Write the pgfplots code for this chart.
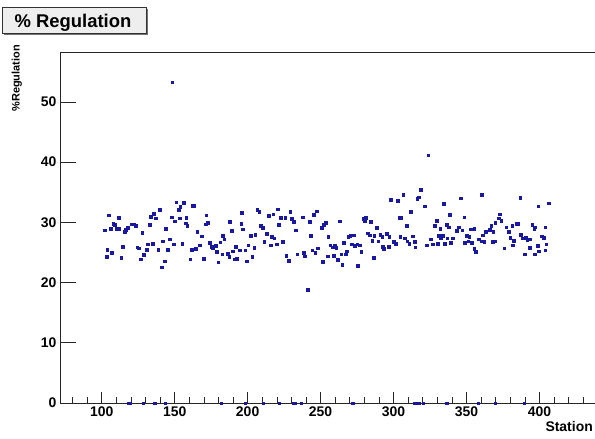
\documentclass[border=0pt]{standalone}
\usepackage{fontspec}
\setmainfont{Liberation Sans}
\usepackage{pgfplots}
\pgfplotsset{compat=1.18}

\definecolor{rootblue}{RGB}{25,25,160}
\definecolor{titlefill}{RGB}{238,238,238}

% measured values, station vs regulation
\pgfplotstableread{
x y
101.9 28.7
103.2 24.3
103.7 25.5
104.9 31.2
105.9 29.0
106.9 25.0
107.9 29.8
108.9 29.6
110.2 29.0
111.4 30.8
111.8 29.0
113.2 24.1
114.1 26.0
115.5 28.5
116.4 28.8
117.8 29.1
120.1 29.7
121.8 29.7
123.3 29.5
124.2 25.9
125.2 25.7
126.5 23.9
127.7 28.3
128.7 24.6
130.7 25.5
131.5 26.4
132.7 29.6
133.3 31.0
134.7 26.5
135.7 31.5
137.0 30.7
138.7 25.5
139.7 32.1
141.1 22.6
141.6 26.9
142.9 23.6
143.6 29.0
145.2 25.5
146.6 27.2
147.9 30.9
148.2 53.3
149.3 26.4
150.0 30.2
150.9 33.4
152.6 32.1
153.2 30.7
153.7 32.6
155.0 26.5
156.0 33.3
157.3 29.9
157.8 30.8
158.6 29.5
160.5 23.9
161.5 25.5
162.4 32.8
163.4 32.8
164.2 25.6
165.5 28.5
166.9 26.2
168.3 27.7
169.7 24.0
171.1 29.7
171.5 31.2
172.5 30.0
173.8 26.6
175.2 26.0
176.1 25.7
177.9 26.1
178.9 25.1
179.8 23.4
181.2 26.7
182.5 24.7
183.0 27.8
183.9 27.2
186.2 24.8
187.2 24.3
187.5 30.1
189.0 28.6
189.9 25.2
191.2 23.9
191.6 26.0
192.6 24.0
194.4 25.4
195.4 29.8
195.8 31.6
196.7 28.9
198.3 25.4
199.3 23.6
200.2 26.2
202.2 27.8
203.2 24.3
204.5 25.8
205.0 28.0
206.4 32.1
207.8 31.8
208.7 29.5
210.1 29.1
211.4 26.8
212.8 28.1
214.2 31.1
215.6 26.2
216.5 27.6
217.4 31.4
218.2 27.4
219.7 26.4
220.7 32.2
221.2 29.6
222.5 30.8
223.8 26.8
225.7 30.8
226.5 24.5
227.9 23.7
229.0 31.8
230.2 30.6
231.6 30.1
233.0 28.7
233.9 24.7
237.6 30.9
238.5 25.0
238.9 24.4
241.2 18.8
242.6 30.1
243.1 27.8
244.3 25.4
245.3 31.3
246.2 25.0
247.2 31.9
248.0 25.7
250.5 29.1
251.5 23.5
252.0 29.6
253.3 30.0
254.7 24.4
255.2 27.6
256.6 26.2
258.4 25.9
258.8 24.5
259.8 26.2
260.7 25.8
261.5 23.8
262.9 30.2
264.0 24.7
264.8 23.0
265.7 26.6
267.0 24.7
268.0 25.2
268.9 27.6
270.2 27.8
271.1 26.4
272.5 27.9
273.5 26.1
274.9 26.4
275.2 22.8
276.6 26.2
277.8 25.1
279.3 30.6
280.3 30.2
280.8 30.8
282.1 28.2
283.4 27.9
284.4 30.1
285.3 27.0
286.2 24.1
286.7 27.8
288.6 29.1
289.5 26.9
290.8 28.0
292.2 27.6
292.6 26.0
293.1 25.6
295.4 28.1
296.7 26.0
297.1 27.6
298.1 33.8
299.9 26.8
301.3 26.5
302.7 33.6
303.8 30.8
304.6 27.6
305.1 30.8
306.5 34.6
307.4 27.4
308.8 29.5
309.3 26.9
310.6 26.5
311.6 31.8
312.9 27.7
314.3 26.8
314.8 25.9
316.1 33.9
317.1 34.2
318.4 35.4
321.2 32.7
322.6 26.2
323.6 41.2
325.3 27.2
326.7 26.4
328.1 29.5
329.5 30.3
330.4 26.5
330.8 27.8
331.8 29.0
332.2 27.5
333.6 27.8
334.5 33.1
335.0 26.5
336.4 29.6
336.8 27.4
337.7 29.2
338.6 31.3
339.1 26.6
340.5 27.4
343.3 28.6
344.7 29.2
346.0 34.0
347.0 28.7
348.3 30.9
348.8 26.6
350.2 27.8
351.0 26.9
351.9 27.6
352.8 28.9
353.7 26.6
355.1 29.0
355.1 25.6
356.2 25.1
358.5 27.2
360.2 34.6
360.3 26.9
361.2 27.9
362.2 26.8
363.1 28.5
365.9 28.8
366.8 29.5
367.7 26.8
368.3 28.5
369.1 26.9
369.7 30.0
371.9 30.7
372.8 31.4
373.7 30.3
375.8 25.7
377.2 29.2
378.7 28.5
379.8 27.5
381.2 29.5
381.7 26.2
382.2 27.0
383.9 29.8
384.9 29.8
386.7 34.1
387.0 28.0
388.4 27.4
389.9 24.7
390.6 27.5
391.5 27.1
393.1 25.8
393.7 27.2
394.9 29.6
396.3 28.9
396.6 24.7
396.8 29.2
398.6 26.1
399.0 32.7
399.5 25.2
401.3 27.7
402.8 27.5
404.0 29.2
404.0 25.4
404.5 26.4
406.4 33.2
}\regdata

% stations with no value (plotted at zero)
\pgfplotstableread{
x y
118.2 0
119.4 0
128.1 0
136.3 0
143.6 0
182.0 0
198.4 0
210.4 0
221.7 0
231.3 0
232.7 0
236.4 0
272.0 0
314.5 0
315.9 0
317.3 0
320.0 0
336.0 0
336.9 0
357.9 0
369.4 0
389.5 0
}\zerodata

\begin{document}
\begin{tikzpicture}[x=1bp,y=1bp]
\useasboundingbox (0,0) rectangle (595,439);
\begin{axis}[
  at={(60bp,36bp)}, anchor=south west,
  scale only axis, width=535bp, height=351bp,
  xmin=71.4, xmax=438.1, ymin=0, ymax=58.3,
  axis x line*=box, axis y line*=left,
  axis line style={-, line width=0.8pt, black!85},
  xtick={100,150,...,400},
  ytick=\empty,
  minor xtick={80,90,...,430},
  minor ytick={2,4,...,58},
  extra y ticks={0,10,...,50},
  extra y tick style={major tick length=16bp},
  xtick pos=left, ytick pos=left,
  tick align=inside,
  major tick length=11bp, minor tick length=6bp,
  every tick/.style={black!85, line width=0.6pt},
  tick label style={font=\bfseries\fontsize{14}{14}\selectfont},
  /pgf/number format/assume math mode=true,
  clip=false,
]
\addplot[only marks, mark=square*, mark size=1.3bp, rootblue,
  mark options={line width=0.2pt}] table[x=x, y=y] {\regdata};
\addplot[only marks, mark=square*, mark size=1.1bp, rootblue,
  mark options={line width=0.2pt}] table[x=x, y=y] {\zerodata};
\end{axis}
% title box
\fill[black!55] (4,404) rectangle (148,430);
\draw[fill=titlefill, draw=black!80, line width=0.8pt] (2,406) rectangle (146,432);
\node[anchor=base, inner sep=0, font=\bfseries\fontsize{18.5}{18.5}\selectfont] at (73,411.7) {\% Regulation};
% axis titles
\node[rotate=90, anchor=base east, inner sep=0, font=\bfseries\fontsize{11}{11}\selectfont] at (19.5,394) {\%Regulation};
\node[anchor=base east, inner sep=0, font=\bfseries\fontsize{14}{14}\selectfont] at (593,7) {Station};
\end{tikzpicture}
\end{document}
